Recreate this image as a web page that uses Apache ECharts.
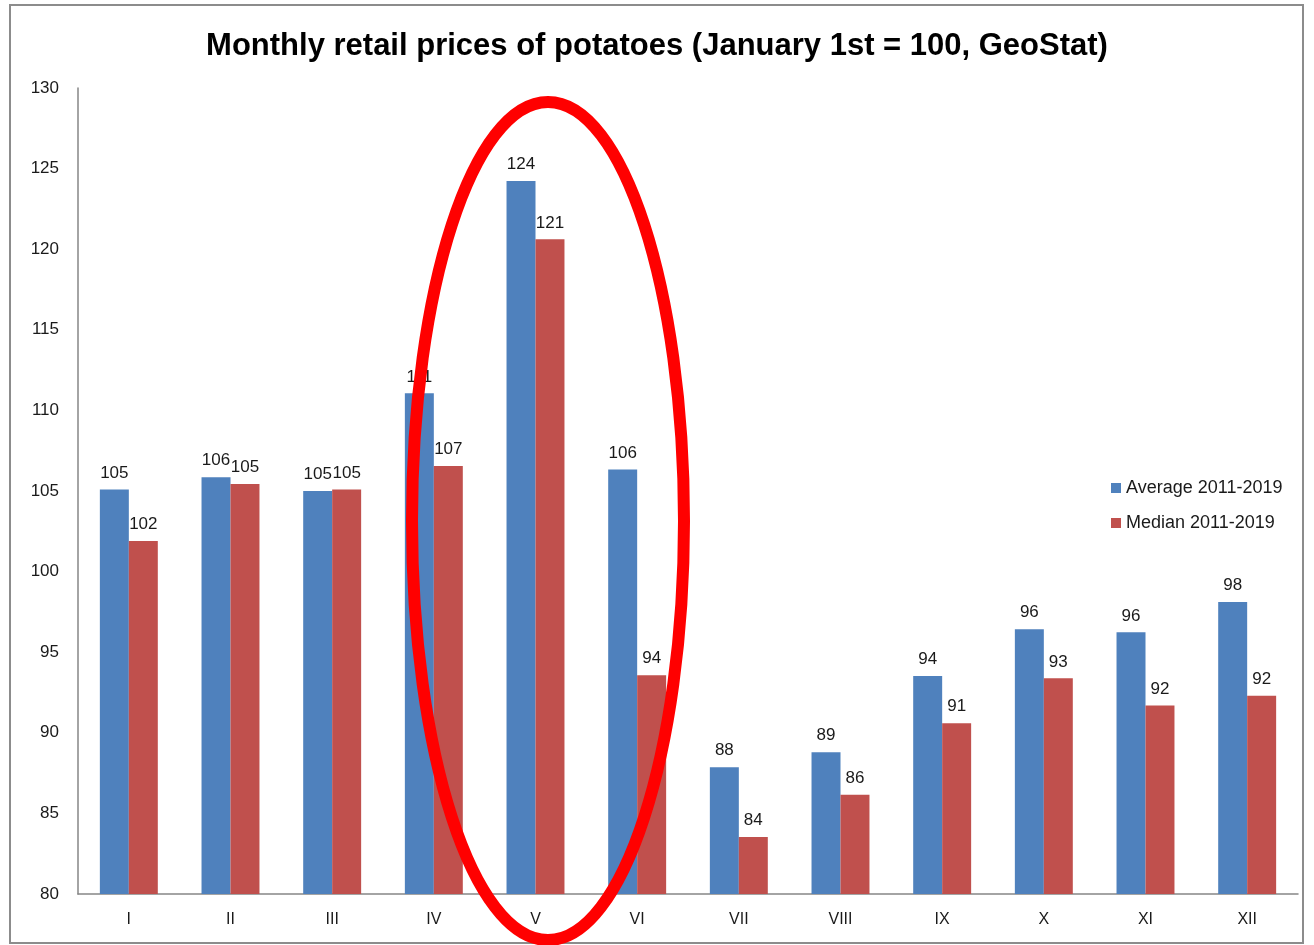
<!DOCTYPE html>
<html>
<head>
<meta charset="utf-8">
<script src="https://cdn.jsdelivr.net/npm/echarts@6/dist/echarts.min.js"></script>
<style>
  html, body { margin: 0; padding: 0; background: #fff; }
  #main { width: 1314px; height: 945px; }
</style>
</head>
<body>
<div id="main"></div>
<script>
var months = ['I', 'II', 'III', 'IV', 'V', 'VI', 'VII', 'VIII', 'IX', 'X', 'XI', 'XII'];
var averageValues = [105.1, 105.85, 105.0, 111.06, 124.23, 106.34, 87.86, 88.8, 93.52, 96.42, 96.23, 98.11];
var medianValues = [101.9, 105.43, 105.1, 106.55, 120.61, 93.57, 83.54, 86.15, 90.59, 93.38, 91.7, 92.3];
var yTicks = [80, 85, 90, 95, 100, 105, 110, 115, 120, 125, 130];

~function () {
    var myChart = echarts.init(document.getElementById('main'));
    var font = 'Liberation Sans';
    var labelStyle = {
        show: true,
        position: 'top',
        distance: 8,
        fontFamily: font,
        fontSize: 17,
        color: '#1a1a1a',
        formatter: function (p) { return Math.round(p.value); }
    };
    var option = {
        backgroundColor: '#fff',
        animation: false,
        title: {
            text: 'Monthly retail prices of potatoes (January 1st = 100, GeoStat)',
            left: 'center',
            top: 26,
            textStyle: {
                fontFamily: font,
                fontWeight: 'bold',
                fontSize: 31,
                color: '#000'
            }
        },
        legend: {
            orient: 'vertical',
            left: 1111,
            top: 479,
            padding: 0,
            itemWidth: 10,
            itemHeight: 10,
            itemGap: 17,
            icon: 'rect',
            textStyle: { fontFamily: font, fontSize: 18, color: '#1a1a1a' },
            data: ['Average 2011-2019', 'Median 2011-2019']
        },
        grid: { left: 78, right: 16, top: 88, bottom: 51, containLabel: false },
        xAxis: {
            type: 'category',
            data: months,
            axisLine: { lineStyle: { color: '#868686', width: 1.5 } },
            axisTick: { show: false },
            axisLabel: { fontFamily: font, fontSize: 16, color: '#1a1a1a', margin: 18 }
        },
        yAxis: {
            type: 'value',
            min: yTicks[0],
            max: yTicks[yTicks.length - 1],
            interval: 5,
            axisLine: { show: true, lineStyle: { color: '#868686', width: 1.5 } },
            axisTick: { show: false },
            splitLine: { show: false },
            axisLabel: { fontFamily: font, fontSize: 17, color: '#1a1a1a', margin: 19 }
        },
        series: [
            {
                name: 'Average 2011-2019',
                type: 'bar',
                data: averageValues,
                barGap: '0%',
                barCategoryGap: '43%',
                itemStyle: { color: '#4F81BD' },
                label: labelStyle
            },
            {
                name: 'Median 2011-2019',
                type: 'bar',
                data: medianValues,
                itemStyle: { color: '#C0504D' },
                label: labelStyle
            }
        ],
        graphic: [
            {
                type: 'rect',
                shape: { x: 10, y: 5, width: 1293, height: 938 },
                style: { fill: 'none', stroke: '#8c8c8c', lineWidth: 2 },
                silent: true
            },
            {
                type: 'ellipse',
                shape: { cx: 548, cy: 521, rx: 136, ry: 419 },
                style: { fill: 'none', stroke: '#ff0000', lineWidth: 12 },
                z: 100,
                silent: true
            }
        ]
    };
    myChart.setOption(option);
}();
</script>
</body>
</html>
